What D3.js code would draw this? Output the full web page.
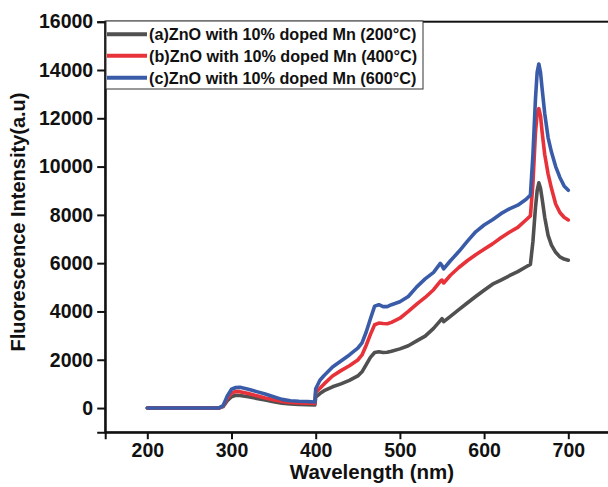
<!DOCTYPE html>
<html>
<head>
<meta charset="utf-8">
<script src="https://cdn.jsdelivr.net/npm/d3@7"></script>
<style>
  body { margin: 0; background: #fff; }
  svg text { font-family: "Liberation Sans", Arial, sans-serif; font-weight: bold; fill: #111; }
</style>
</head>
<body>
<script>
// wavelength grid (nm) and fluorescence intensity
const wavelength = [200, 285, 290, 295, 300, 305, 310, 320, 330, 340, 350, 360, 370, 380, 390, 399,
  400, 405, 410, 420, 430, 440, 450, 455, 460, 465, 470, 475, 480, 485, 490, 500, 510, 520, 530,
  540, 548, 550, 552, 560, 570, 580, 590, 600, 610, 620, 630, 640, 650, 655, 658, 661, 663, 665,
  667, 669, 672, 676, 680, 685, 690, 695, 700];

const mn200 = [0, 0, 60, 300, 470, 530, 520, 470, 400, 330, 260, 200, 170, 150, 140, 125,
  450, 600, 720, 880, 1000, 1150, 1330, 1500, 1800, 2100, 2300, 2330, 2300, 2310, 2350, 2450, 2580, 2780, 2980,
  3300, 3620, 3700, 3580, 3800, 4080, 4350, 4620, 4880, 5130, 5300, 5480, 5650, 5850, 5950, 6900, 8300, 9000, 9330,
  9100, 8650, 7900, 7150, 6750, 6450, 6260, 6170, 6120];

const mn400 = [0, 0, 80, 400, 620, 690, 680, 600, 510, 420, 340, 270, 230, 210, 200, 190,
  650, 820, 1000, 1330, 1550, 1750, 1990, 2200, 2600, 3050, 3450, 3520, 3500, 3490, 3550, 3720, 4000, 4300, 4580,
  4900, 5250, 5300, 5180, 5500, 5820, 6100, 6350, 6580, 6800, 7050, 7280, 7480, 7800, 7960, 9300, 11400, 12200, 12400,
  12100, 11400, 10500, 9700, 9100, 8450, 8100, 7900, 7790];

const mn600 = [0, 0, 100, 500, 780, 850, 860, 780, 680, 580, 470, 360, 300, 280, 270, 250,
  800, 1150, 1350, 1700, 1950, 2200, 2480, 2700, 3150, 3700, 4220, 4280, 4200, 4200, 4280, 4400, 4620, 5020, 5350,
  5620, 5990, 5900, 5760, 6100, 6480, 6900, 7300, 7580, 7800, 8050, 8250, 8400, 8650, 8820, 10500, 12800, 13900, 14250,
  13900, 13200, 12200, 11200, 10600, 10000, 9550, 9200, 9020];

const seriesNames = ["(a)ZnO with 10% doped Mn (200\u00B0C)", "(b)ZnO with 10% doped Mn (400\u00B0C)", "(c)ZnO with 10% doped Mn (600\u00B0C)"];
const seriesColors = ["#505050", "#e8323a", "#3a5ca8"];
const xTicks = [200, 300, 400, 500, 600, 700];
const yTicks = [0, 2000, 4000, 6000, 8000, 10000, 12000, 14000, 16000];

const width = 608, height = 487;

const svg = d3.select("body").append("svg")
  .attr("width", width)
  .attr("height", height);

const x = d3.scaleLinear().domain([150, 750]).range([105.2, 610.4]);
const y = d3.scaleLinear().domain([-1000, 16000]).range([432.2, 21.7]);

// frame
svg.append("rect")
  .attr("x", x(150)).attr("y", y(16000))
  .attr("width", x(750) - x(150)).attr("height", y(-1000) - y(16000))
  .attr("fill", "none").attr("stroke", "#111").attr("stroke-width", 2);

const xAxis = svg.append("g")
  .attr("transform", "translate(0," + y(-1000) + ")")
  .call(d3.axisBottom(x).tickValues(xTicks).tickSize(7).tickPadding(4).tickFormat(d3.format("d")));

const yAxis = svg.append("g")
  .attr("transform", "translate(" + x(150) + ",0)")
  .call(d3.axisLeft(y).tickValues(yTicks).tickSize(8).tickPadding(4).tickFormat(d3.format("d")));

[xAxis, yAxis].forEach(function(g) {
  g.select(".domain").attr("stroke", "#111").attr("stroke-width", 2);
  g.selectAll(".tick line").attr("stroke", "#111").attr("stroke-width", 2);
  g.selectAll(".tick text").attr("font-size", 19.5).attr("fill", "#111")
    .style("font-family", "'Liberation Sans', Arial, sans-serif").style("font-weight", "bold");
});

// curves
const line = d3.line()
  .x(function(d) { return x(d[0]); })
  .y(function(d) { return y(d[1]); });

[mn200, mn400, mn600].forEach(function(vals, i) {
  svg.append("path")
    .datum(wavelength.map(function(w, j) { return [w, vals[j]]; }))
    .attr("d", line)
    .attr("fill", "none")
    .attr("stroke", seriesColors[i])
    .attr("stroke-width", 3.6)
    .attr("stroke-linejoin", "round")
    .attr("stroke-linecap", "round");
});

// axis titles
svg.append("text")
  .attr("x", 372).attr("y", 479)
  .attr("text-anchor", "middle")
  .attr("font-size", 20.5)
  .text("Wavelength (nm)");

svg.append("text")
  .attr("transform", "translate(25,222) rotate(-90)")
  .attr("text-anchor", "middle")
  .attr("font-size", 20)
  .text("Fluorescence Intensity(a.u)");

// legend
const legend = svg.append("g");
legend.append("rect")
  .attr("x", 106).attr("y", 21)
  .attr("width", 317).attr("height", 68)
  .attr("fill", "#fff").attr("stroke", "#333").attr("stroke-width", 1);

const legendY = [34.3, 55.8, 77.7];
seriesNames.forEach(function(name, i) {
  legend.append("line")
    .attr("x1", 107).attr("x2", 147)
    .attr("y1", legendY[i]).attr("y2", legendY[i])
    .attr("stroke", seriesColors[i]).attr("stroke-width", 4);
  legend.append("text")
    .attr("x", 149).attr("y", legendY[i] + 6)
    .attr("font-size", 16.2)
    .text(name);
});
</script>
</body>
</html>
